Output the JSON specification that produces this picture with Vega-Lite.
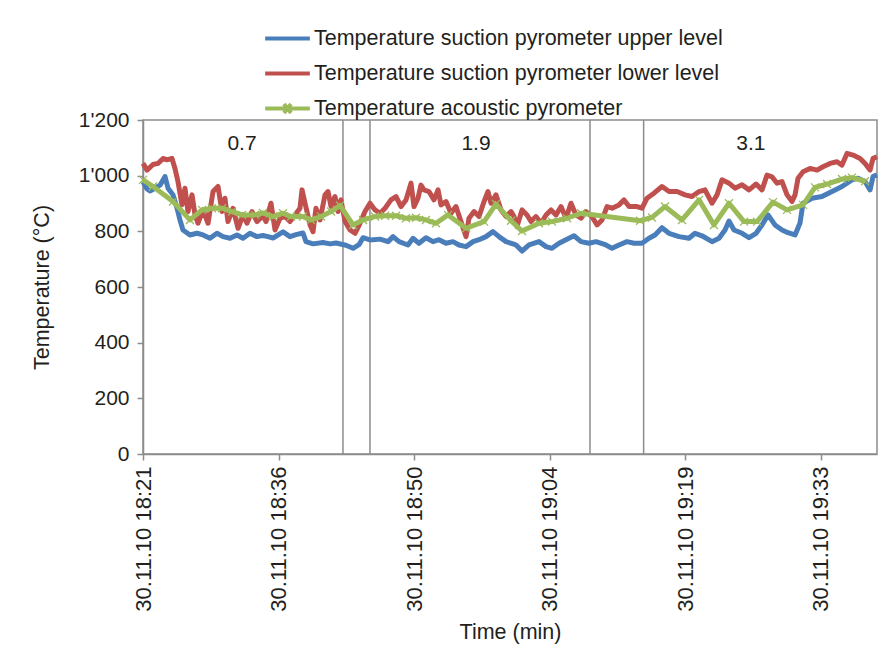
{
  "$schema": "https://vega.github.io/schema/vega-lite/v6.json",
  "width": 734,
  "height": 334,
  "autosize": {"type": "none"},
  "padding": {"left": 143, "top": 120, "right": 8, "bottom": 210},
  "background": "white",
  "config": {
    "font": "Liberation Sans",
    "view": {"stroke": "#8c8c8c", "strokeWidth": 1.5},
    "axis": {
      "grid": false,
      "domainColor": "#8c8c8c",
      "domainWidth": 1.5,
      "tickColor": "#8c8c8c",
      "tickWidth": 1.5,
      "tickSize": 6,
      "labelFontSize": 21,
      "labelColor": "#231f20",
      "titleFontSize": 21.5,
      "titleFontWeight": "normal",
      "titleColor": "#231f20"
    }
  },
  "datasets": {
    "splits": [{"t": 21.25}, {"t": 24.12}, {"t": 47.5}, {"t": 53.2}],
    "labels": [
      {"t": 10.52, "v": 1114, "txt": "0.7"},
      {"t": 35.39, "v": 1114, "txt": "1.9"},
      {"t": 64.6, "v": 1114, "txt": "3.1"}
    ],
    "upper": [
      {"t": 0.00, "v": 978}, {"t": 0.43, "v": 952}, {"t": 0.74, "v": 945}, {"t": 1.28, "v": 955}, {"t": 1.81, "v": 966},
      {"t": 2.34, "v": 997}, {"t": 2.66, "v": 955}, {"t": 3.19, "v": 931}, {"t": 3.61, "v": 884}, {"t": 3.93, "v": 841},
      {"t": 4.25, "v": 805}, {"t": 4.99, "v": 787}, {"t": 5.74, "v": 793}, {"t": 6.38, "v": 787}, {"t": 7.12, "v": 775},
      {"t": 7.86, "v": 793}, {"t": 8.50, "v": 781}, {"t": 9.25, "v": 775}, {"t": 9.99, "v": 787}, {"t": 10.63, "v": 775},
      {"t": 11.37, "v": 793}, {"t": 12.11, "v": 781}, {"t": 12.75, "v": 785}, {"t": 13.28, "v": 781}, {"t": 13.82, "v": 776},
      {"t": 14.88, "v": 798}, {"t": 15.62, "v": 781}, {"t": 16.26, "v": 788}, {"t": 17.00, "v": 794}, {"t": 17.32, "v": 763},
      {"t": 18.07, "v": 755}, {"t": 19.13, "v": 760}, {"t": 19.87, "v": 755}, {"t": 20.51, "v": 758}, {"t": 21.57, "v": 750},
      {"t": 22.32, "v": 739}, {"t": 22.95, "v": 752}, {"t": 23.38, "v": 777}, {"t": 24.12, "v": 769}, {"t": 25.18, "v": 772},
      {"t": 26.04, "v": 763}, {"t": 26.57, "v": 781}, {"t": 27.21, "v": 763}, {"t": 28.16, "v": 751}, {"t": 28.69, "v": 775},
      {"t": 29.33, "v": 757}, {"t": 30.07, "v": 777}, {"t": 30.82, "v": 763}, {"t": 31.46, "v": 770}, {"t": 32.20, "v": 757},
      {"t": 32.94, "v": 763}, {"t": 33.58, "v": 751}, {"t": 34.33, "v": 745}, {"t": 35.07, "v": 763}, {"t": 35.71, "v": 770},
      {"t": 36.45, "v": 781}, {"t": 37.19, "v": 799}, {"t": 37.83, "v": 781}, {"t": 38.58, "v": 763}, {"t": 39.32, "v": 755},
      {"t": 39.64, "v": 751}, {"t": 40.28, "v": 729}, {"t": 41.02, "v": 751}, {"t": 42.08, "v": 763}, {"t": 42.83, "v": 745},
      {"t": 43.46, "v": 739}, {"t": 44.21, "v": 757}, {"t": 44.95, "v": 770}, {"t": 45.80, "v": 784}, {"t": 46.55, "v": 763},
      {"t": 47.40, "v": 757}, {"t": 48.14, "v": 763}, {"t": 49.20, "v": 751}, {"t": 49.84, "v": 739}, {"t": 50.58, "v": 751},
      {"t": 51.43, "v": 763}, {"t": 52.18, "v": 757}, {"t": 53.03, "v": 757}, {"t": 53.77, "v": 775}, {"t": 54.41, "v": 787},
      {"t": 55.15, "v": 813}, {"t": 55.90, "v": 793}, {"t": 56.96, "v": 781}, {"t": 58.02, "v": 775}, {"t": 58.66, "v": 793},
      {"t": 59.40, "v": 784}, {"t": 60.47, "v": 763}, {"t": 61.21, "v": 775}, {"t": 61.85, "v": 805}, {"t": 62.27, "v": 837},
      {"t": 62.81, "v": 805}, {"t": 63.66, "v": 793}, {"t": 64.40, "v": 777}, {"t": 65.15, "v": 793}, {"t": 65.78, "v": 823},
      {"t": 66.42, "v": 859}, {"t": 67.16, "v": 823}, {"t": 67.91, "v": 805}, {"t": 68.54, "v": 795}, {"t": 69.29, "v": 787},
      {"t": 69.82, "v": 830}, {"t": 70.14, "v": 901}, {"t": 71.09, "v": 919}, {"t": 72.15, "v": 925}, {"t": 73.22, "v": 943},
      {"t": 74.28, "v": 961}, {"t": 75.34, "v": 985}, {"t": 75.98, "v": 991}, {"t": 76.73, "v": 979}, {"t": 77.26, "v": 949},
      {"t": 77.58, "v": 997}, {"t": 78.00, "v": 1003}
    ],
    "lower": [
      {"t": 0.00, "v": 1044}, {"t": 0.43, "v": 1020}, {"t": 1.06, "v": 1040}, {"t": 1.59, "v": 1044}, {"t": 2.13, "v": 1062},
      {"t": 2.55, "v": 1057}, {"t": 3.08, "v": 1062}, {"t": 3.40, "v": 1026}, {"t": 3.72, "v": 978}, {"t": 4.14, "v": 895},
      {"t": 4.46, "v": 955}, {"t": 4.78, "v": 871}, {"t": 5.21, "v": 931}, {"t": 5.53, "v": 859}, {"t": 5.84, "v": 829},
      {"t": 6.38, "v": 877}, {"t": 6.91, "v": 829}, {"t": 7.44, "v": 943}, {"t": 7.97, "v": 961}, {"t": 8.40, "v": 871},
      {"t": 8.71, "v": 919}, {"t": 9.03, "v": 835}, {"t": 9.56, "v": 883}, {"t": 10.10, "v": 811}, {"t": 10.63, "v": 859},
      {"t": 11.05, "v": 829}, {"t": 11.58, "v": 871}, {"t": 12.11, "v": 835}, {"t": 12.75, "v": 856}, {"t": 13.07, "v": 835},
      {"t": 13.60, "v": 901}, {"t": 14.03, "v": 805}, {"t": 14.56, "v": 847}, {"t": 15.09, "v": 853}, {"t": 15.62, "v": 835},
      {"t": 16.15, "v": 859}, {"t": 16.68, "v": 883}, {"t": 16.90, "v": 949}, {"t": 17.22, "v": 901}, {"t": 17.75, "v": 823},
      {"t": 18.07, "v": 799}, {"t": 18.38, "v": 883}, {"t": 18.81, "v": 841}, {"t": 19.34, "v": 931}, {"t": 19.66, "v": 943},
      {"t": 19.98, "v": 889}, {"t": 20.40, "v": 925}, {"t": 20.72, "v": 871}, {"t": 21.04, "v": 913}, {"t": 21.47, "v": 835},
      {"t": 22.00, "v": 805}, {"t": 22.53, "v": 793}, {"t": 23.06, "v": 829}, {"t": 23.59, "v": 871}, {"t": 24.12, "v": 901},
      {"t": 24.65, "v": 877}, {"t": 25.19, "v": 865}, {"t": 25.72, "v": 883}, {"t": 26.35, "v": 913}, {"t": 26.89, "v": 925},
      {"t": 27.42, "v": 889}, {"t": 27.95, "v": 913}, {"t": 28.48, "v": 973}, {"t": 28.80, "v": 889}, {"t": 29.22, "v": 919},
      {"t": 29.54, "v": 966}, {"t": 29.86, "v": 949}, {"t": 30.39, "v": 943}, {"t": 30.92, "v": 913}, {"t": 31.35, "v": 949},
      {"t": 31.67, "v": 895}, {"t": 32.20, "v": 907}, {"t": 32.73, "v": 865}, {"t": 33.26, "v": 889}, {"t": 33.79, "v": 835},
      {"t": 34.33, "v": 781}, {"t": 34.64, "v": 847}, {"t": 35.18, "v": 871}, {"t": 35.71, "v": 853}, {"t": 36.24, "v": 907},
      {"t": 36.66, "v": 943}, {"t": 36.98, "v": 901}, {"t": 37.51, "v": 931}, {"t": 38.04, "v": 877}, {"t": 38.58, "v": 853},
      {"t": 39.11, "v": 871}, {"t": 39.43, "v": 853}, {"t": 39.74, "v": 817}, {"t": 40.28, "v": 877}, {"t": 40.81, "v": 859},
      {"t": 41.23, "v": 835}, {"t": 41.76, "v": 853}, {"t": 42.30, "v": 829}, {"t": 42.83, "v": 859}, {"t": 43.36, "v": 877},
      {"t": 43.89, "v": 859}, {"t": 44.42, "v": 889}, {"t": 44.95, "v": 847}, {"t": 45.48, "v": 901}, {"t": 46.01, "v": 859},
      {"t": 46.55, "v": 847}, {"t": 47.08, "v": 871}, {"t": 47.71, "v": 853}, {"t": 48.25, "v": 823}, {"t": 48.78, "v": 841},
      {"t": 49.31, "v": 889}, {"t": 49.84, "v": 883}, {"t": 50.58, "v": 895}, {"t": 51.12, "v": 913}, {"t": 51.65, "v": 889},
      {"t": 52.50, "v": 889}, {"t": 53.03, "v": 883}, {"t": 53.56, "v": 919}, {"t": 54.30, "v": 937}, {"t": 55.15, "v": 961},
      {"t": 55.90, "v": 943}, {"t": 56.75, "v": 943}, {"t": 57.60, "v": 931}, {"t": 58.34, "v": 925}, {"t": 59.09, "v": 943},
      {"t": 59.72, "v": 949}, {"t": 60.47, "v": 901}, {"t": 61.00, "v": 931}, {"t": 61.53, "v": 985}, {"t": 62.27, "v": 973},
      {"t": 62.91, "v": 955}, {"t": 63.66, "v": 967}, {"t": 64.40, "v": 949}, {"t": 65.15, "v": 970}, {"t": 65.78, "v": 949},
      {"t": 66.31, "v": 1002}, {"t": 66.84, "v": 996}, {"t": 67.38, "v": 973}, {"t": 67.91, "v": 979}, {"t": 68.44, "v": 931},
      {"t": 68.97, "v": 907}, {"t": 69.29, "v": 931}, {"t": 69.61, "v": 991}, {"t": 70.14, "v": 1014}, {"t": 70.88, "v": 1026},
      {"t": 71.63, "v": 1020}, {"t": 72.26, "v": 1032}, {"t": 73.01, "v": 1044}, {"t": 73.75, "v": 1050}, {"t": 74.28, "v": 1038},
      {"t": 74.81, "v": 1080}, {"t": 75.45, "v": 1074}, {"t": 76.20, "v": 1062}, {"t": 76.73, "v": 1044}, {"t": 77.26, "v": 1020},
      {"t": 77.58, "v": 1062}, {"t": 78.00, "v": 1068}
    ],
    "acoustic": [
      {"t": 0.00, "v": 985}, {"t": 1.06, "v": 961}, {"t": 3.19, "v": 907}, {"t": 4.99, "v": 841}, {"t": 6.27, "v": 877},
      {"t": 7.33, "v": 883}, {"t": 8.40, "v": 883}, {"t": 9.46, "v": 871}, {"t": 10.52, "v": 859}, {"t": 11.90, "v": 859},
      {"t": 12.75, "v": 866}, {"t": 13.82, "v": 853}, {"t": 14.88, "v": 865}, {"t": 15.73, "v": 853}, {"t": 17.00, "v": 853},
      {"t": 17.85, "v": 841}, {"t": 18.92, "v": 853}, {"t": 19.98, "v": 871}, {"t": 20.94, "v": 893}, {"t": 22.32, "v": 823},
      {"t": 23.38, "v": 841}, {"t": 24.65, "v": 853}, {"t": 25.72, "v": 856}, {"t": 26.89, "v": 856}, {"t": 27.95, "v": 847},
      {"t": 29.01, "v": 849}, {"t": 30.07, "v": 841}, {"t": 31.14, "v": 829}, {"t": 32.41, "v": 859}, {"t": 34.33, "v": 811},
      {"t": 36.24, "v": 835}, {"t": 37.51, "v": 898}, {"t": 39.11, "v": 838}, {"t": 40.28, "v": 801}, {"t": 42.08, "v": 829},
      {"t": 43.46, "v": 835}, {"t": 45.06, "v": 847}, {"t": 46.55, "v": 865}, {"t": 52.82, "v": 838}, {"t": 54.09, "v": 850},
      {"t": 55.47, "v": 889}, {"t": 57.28, "v": 841}, {"t": 59.09, "v": 913}, {"t": 60.68, "v": 823}, {"t": 62.27, "v": 901},
      {"t": 63.87, "v": 835}, {"t": 65.25, "v": 835}, {"t": 66.95, "v": 905}, {"t": 68.44, "v": 877}, {"t": 70.14, "v": 895},
      {"t": 71.41, "v": 958}, {"t": 72.69, "v": 970}, {"t": 74.28, "v": 988}, {"t": 75.34, "v": 993}, {"t": 76.73, "v": 980}
    ]
  },
  "encoding": {
    "x": {
      "field": "t",
      "type": "quantitative",
      "scale": {"domain": [0, 78], "nice": false, "zero": false},
      "axis": {
        "title": "Time (min)",
        "values": [0, 14.4, 28.8, 43.2, 57.6, 72],
        "labelExpr": "['30.11.10 18:21','30.11.10 18:36','30.11.10 18:50','30.11.10 19:04','30.11.10 19:19','30.11.10 19:33'][round(datum.value / 14.4)]",
        "labelAngle": 270,
        "labelFontSize": 22,
        "labelPadding": 6,
        "labelFlush": false,
        "labelOverlap": false,
        "labelBound": false,
        "titlePadding": 10
      }
    }
  },
  "layer": [
    {
      "data": {"name": "splits"},
      "mark": {"type": "rule", "color": "#8c8c8c", "strokeWidth": 1.5},
      "encoding": {}
    },
    {
      "data": {"name": "upper"},
      "mark": {"type": "line", "strokeWidth": 5, "strokeJoin": "round"},
      "encoding": {
        "y": {
          "field": "v",
          "type": "quantitative",
          "scale": {"domain": [0, 1200], "nice": false},
          "axis": {
            "title": "Temperature (°C)",
            "values": [0, 200, 400, 600, 800, 1000, 1200],
            "labelExpr": "replace(format(datum.value, ','), ',', \"'\")",
            "labelPadding": 8,
            "titlePadding": 25
          }
        },
        "color": {
          "datum": "Temperature suction pyrometer upper level",
          "type": "nominal",
          "scale": {
            "domain": [
              "Temperature suction pyrometer upper level",
              "Temperature suction pyrometer lower level",
              "Temperature acoustic pyrometer"
            ],
            "range": ["#4a7ebb", "#c0504d", "#9bbb59"]
          },
          "legend": {
            "title": null,
            "orient": "none",
            "legendX": 120,
            "legendY": -106,
            "direction": "vertical",
            "symbolType": "stroke",
            "symbolSize": 2000,
            "symbolStrokeWidth": 4,
            "labelFontSize": 21.5,
            "labelColor": "#231f20",
            "labelLimit": 0,
            "labelOffset": 2,
            "rowPadding": 0,
            "padding": 0,
            "encode": {
              "symbols": {
                "update": {
                  "shape": {"signal": "datum.value === 'Temperature acoustic pyrometer' ? 'M-1,0L1,0M-0.16,-0.2L0.16,0.2M-0.16,0.2L0.16,-0.2' : 'stroke'"}
                }
              }
            }
          }
        }
      }
    },
    {
      "data": {"name": "lower"},
      "mark": {"type": "line", "strokeWidth": 5, "strokeJoin": "round"},
      "encoding": {
        "y": {"field": "v", "type": "quantitative"},
        "color": {"datum": "Temperature suction pyrometer lower level", "type": "nominal"}
      }
    },
    {
      "data": {"name": "acoustic"},
      "mark": {
        "type": "line",
        "strokeWidth": 5,
        "strokeJoin": "round",
        "point": {"shape": "M-1,-1L1,1M-1,1L1,-1", "filled": false, "size": 64, "strokeWidth": 1.3}
      },
      "encoding": {
        "y": {"field": "v", "type": "quantitative"},
        "color": {"datum": "Temperature acoustic pyrometer", "type": "nominal"}
      }
    },
    {
      "data": {"name": "labels"},
      "mark": {"type": "text", "fontSize": 21, "color": "#231f20", "baseline": "middle"},
      "encoding": {
        "y": {"field": "v", "type": "quantitative"},
        "text": {"field": "txt"}
      }
    }
  ]
}
